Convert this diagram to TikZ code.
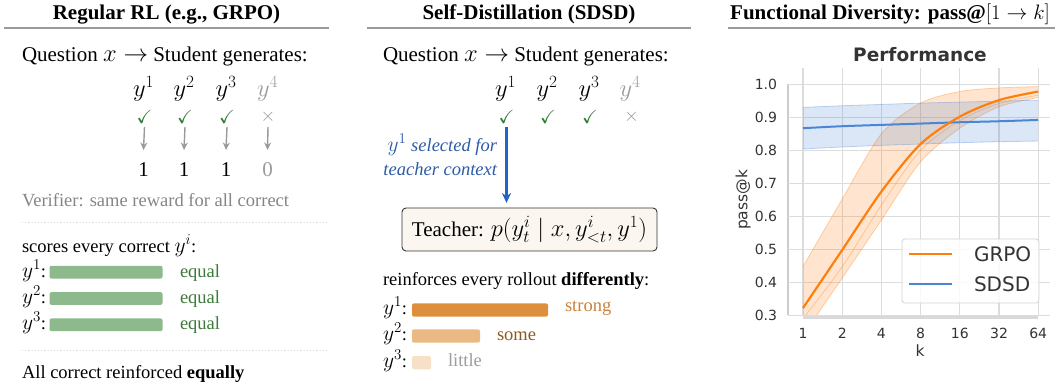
\RequirePackage{fix-cm}
\documentclass[tikz,border=0pt]{standalone}
\usepackage{amssymb}
\usepackage{fontspec}
\setmainfont{Liberation Serif}
\newfontfamily\djv{DejaVu Sans}
\usetikzlibrary{arrows.meta}
\DeclareMathSizes{21}{24.5}{17.2}{12.3}
\DeclareMathSizes{18.5}{21.5}{15}{10.8}
\definecolor{ckgreen}{HTML}{2E7D32}
\definecolor{eqgreen}{HTML}{3C7A3C}
\definecolor{bargreen}{HTML}{8DB98C}
\definecolor{midgrey}{HTML}{9A9A9A}
\definecolor{txtgrey}{HTML}{858585}
\definecolor{arrblue}{HTML}{1F66C9}
\definecolor{txtblue}{HTML}{2C5BA6}
\definecolor{teachfill}{HTML}{FBF6F0}
\definecolor{orA}{HTML}{DE8F3E}
\definecolor{orB}{HTML}{EBBA84}
\definecolor{orC}{HTML}{F6E0C8}
\definecolor{strongtxt}{HTML}{C8823C}
\definecolor{sometxt}{HTML}{8B5A1E}
\definecolor{grpoc}{HTML}{FF7F0E}
\definecolor{sdsdc}{HTML}{4A86D4}
\definecolor{gridc}{HTML}{DCDCDC}
\definecolor{axtxt}{HTML}{333333}
\newcommand\fA{\fontsize{21}{25}\selectfont}
\newcommand\fB{\fontsize{18.5}{22}\selectfont}
\newcommand\fC{\fontsize{19}{23}\selectfont}
\newcommand\fT{\fontsize{20.9}{25}\selectfont}
\tikzset{
  every node/.style={inner sep=0pt, outer sep=0pt},
  ttl/.style={font=\fA\bfseries, anchor=base},
  big/.style={font=\fA, anchor=base west},
  sm/.style={font=\fB, anchor=base west},
  yl/.style={font=\fA, anchor=base},
  ck/.style={font=\fC, text=ckgreen},
  xx/.style={font=\fC, text=midgrey},
  num/.style={font=\fA},
  hrule/.style={draw=midgrey, line width=1.7pt},
  dotline/.style={draw=gridc, dotted, line width=1.2pt},
  garr/.style={draw=midgrey, line width=1.4pt, -{Stealth[length=7.5pt,width=7pt]}},
  barr/.style={draw=arrblue, line width=2.2pt, -{Stealth[length=10pt,width=9pt]}},
  barbox/.style={rounded corners=2pt, minimum height=12.8pt, anchor=west},
  gridline/.style={draw=gridc, line width=1.1pt},
  tick/.style={font=\djv\fontsize{14}{16}\selectfont, text=axtxt},
  leg/.style={font=\djv\fontsize{20}{24}\selectfont, text=axtxt, anchor=west},
}
\begin{document}
\begin{tikzpicture}[x=1pt,y=-1pt]
\useasboundingbox (0,0) rectangle (1063,385);
% ================= left panel
\node[ttl] (t1) at (166.5,20) {Regular RL (e.g., GRPO)};
\draw[hrule] (4,27.7) -- (329,27.7);
\node[big] (q1) at (22,61.7) {Question $x\to$ Student generates:};
\foreach \i/\xx in {1/143.5,2/184,3/226}{
  \node[yl] (ya\i) at (\xx,96.5) {$y^{\i}$};
  \node[ck] (ca\i) at (\xx+1,117) {$\checkmark$};
  \node[num] (na\i) at (\xx,169.5) {1};
  \draw[garr] ([yshift=-10pt]ca\i.center) -- ([yshift=19.5pt]na\i.center);
}
\node[yl, text=midgrey] (ya4) at (267.5,96.5) {$y^4$};
\node[xx] (ca4) at (268,117) {$\times$};
\node[num, text=midgrey] (na4) at (267.5,169.5) {0};
\draw[garr] ([yshift=-10pt]ca4.center) -- ([yshift=19.5pt]na4.center);
\node[sm, text=txtgrey] (ver) at (22,206) {Verifier: same reward for all correct};
\draw[dotline] (22,222.3) -- (329,222.3);
\node[sm] (sc) at (22,252) {scores every correct $y^i$:};
\foreach \i/\yy in {1/277,2/303.3,3/329.6}{
  \node[sm] (la\i) at (22,\yy) {$y^{\i}$:};
  \node[barbox, fill=bargreen, minimum width=113pt] (ba\i) at (49.5,\yy-4.8) {};
  \node[sm, text=eqgreen] (ea\i) at (180,\yy) {equal};
}
\draw[dotline] (22,350.7) -- (329,350.7);
\node[sm] (fin) at (22,378.3) {All correct reinforced \textbf{equally}};
% ================= middle panel
\node[ttl] (t2) at (529,20) {Self-Distillation (SDSD)};
\draw[hrule] (367,27.7) -- (691,27.7);
\node[big] (q2) at (383,61.7) {Question $x\to$ Student generates:};
\foreach \i/\xx in {1/505.5,2/547,3/589}{
  \node[yl] (yb\i) at (\xx,96.5) {$y^{\i}$};
  \node[ck] (cb\i) at (\xx+1,117) {$\checkmark$};
}
\node[yl, text=midgrey] (yb4) at (630,96.5) {$y^4$};
\node[xx] (cb4) at (631.5,117) {$\times$};
\node[sm, anchor=base east, text=txtblue, font=\fB\itshape] (sel1) at (497,151.5) {$y^1$ selected for};
\node[sm, anchor=base east, text=txtblue, font=\fB\itshape] (sel2) at (497,175.5) {teacher context};
\node[draw=black!80, line width=0.9pt, fill=teachfill, rounded corners=4pt, minimum width=255pt, minimum height=43pt, font=\fA] (tb) at (529.5,229.5) {Teacher: $p(y^i_t\mid x, y^i_{<t}, y^1)$};
\draw[barr, shorten >=5pt] ([yshift=-10pt]cb1.center) -- (cb1.center |- tb.north);
\node[sm] (rf) at (383,285.5) {reinforces every rollout \textbf{differently}:};
\node[sm] (lb1) at (383,314) {$y^1$:};
\node[barbox, fill=orA, minimum width=136pt, minimum height=13.4pt] (bb1) at (412,310) {};
\node[sm, text=strongtxt] (w1) at (565,311.7) {strong};
\node[sm] (lb2) at (383,340.5) {$y^2$:};
\node[barbox, fill=orB, minimum width=68pt, minimum height=13.4pt] (bb2) at (412,336) {};
\node[sm, text=sometxt] (w2) at (497,340) {some};
\node[sm] (lb3) at (383,367) {$y^3$:};
\node[barbox, fill=orC, minimum width=19pt, minimum height=13.4pt] (bb3) at (412,362.7) {};
\node[sm, text=txtgrey!80] (w3) at (448,366.7) {little};
% ================= right panel
\node[ttl] (t3) at (890,20) {Functional Diversity: pass@{\fT$[1\to k]$}};
\draw[hrule] (728,27.7) -- (1055,27.7);
\node[font=\djv\bfseries\fontsize{18.5}{22}\selectfont, text=axtxt] (perf) at (920,55) {Performance};
\node[font=\djv\fontsize{15.5}{18}\selectfont, text=axtxt, rotate=90] (ylab) at (743,200) {pass@k};
\node[font=\djv\fontsize{15.5}{18}\selectfont, text=axtxt] (xlab) at (920,351) {k};
\draw[draw=black!20, line width=1.3pt] (788,84.3) -- (788,315.3);
\draw[draw=black!15, line width=2.2pt] (803,317.5) -- (1038,317.5);
\begin{scope}[shift={(803,414.3)}, x=39.2pt, y=330pt]
  \foreach \j in {0,...,6} \draw[gridline] (\j,0.301) -- (\j,1.049);
  \foreach \v in {0.3,0.4,0.5,0.6,0.7,0.8,0.9,1.0} {
    \draw[gridline] (-0.383,\v) -- (6.30,\v);
    \node[tick, anchor=east] (yt\v) at (-0.663,\v) {\v};
  }
  \foreach \j/\k in {0/1,1/2,2/4,3/8,4/16,5/32,6/64}
    \node[tick] (xt\k) at (\j,0.2464) {\k};
  \begin{scope}
    \clip (-0.383,0.301) rectangle (6.30,1.049);
    % GRPO band
    \fill[grpoc, opacity=0.2] plot[smooth] coordinates {(0,0.447) (1,0.652) (2,0.850) (3,0.943) (4,0.978) (5,0.989) (6,0.993)}
      -- plot[smooth] coordinates {(6,0.960) (5,0.932) (4,0.867) (3,0.765) (2,0.589) (1,0.413) (0,0.24)} -- cycle;
    \draw[grpoc, opacity=0.35, line width=0.8pt] plot[smooth] coordinates {(0,0.447) (1,0.652) (2,0.850) (3,0.943) (4,0.978) (5,0.989) (6,0.993)};
    \draw[grpoc, opacity=0.35, line width=0.8pt] plot[smooth] coordinates {(0,0.24) (1,0.413) (2,0.589) (3,0.765) (4,0.867) (5,0.932) (6,0.960)};
    \draw[grpoc, opacity=0.35, line width=0.8pt] plot[smooth] coordinates {(0,0.29) (1,0.447) (2,0.634) (3,0.800) (4,0.890) (5,0.942) (6,0.967)};
    % SDSD band
    \fill[sdsdc, opacity=0.2] plot[smooth] coordinates {(0,0.930) (1,0.935) (2,0.939) (3,0.943) (4,0.946) (5,0.949) (6,0.952)}
      -- plot[smooth] coordinates {(6,0.828) (5,0.826) (4,0.823) (3,0.819) (2,0.815) (1,0.810) (0,0.804)} -- cycle;
    \draw[sdsdc, opacity=0.35, line width=0.8pt] plot[smooth] coordinates {(0,0.930) (1,0.935) (2,0.939) (3,0.943) (4,0.946) (5,0.949) (6,0.952)};
    \draw[sdsdc, opacity=0.35, line width=0.8pt] plot[smooth] coordinates {(0,0.804) (1,0.810) (2,0.815) (3,0.819) (4,0.823) (5,0.826) (6,0.828)};
    \draw[sdsdc, line width=2pt] plot[smooth] coordinates {(0,0.867) (1,0.873) (2,0.877) (3,0.881) (4,0.885) (5,0.888) (6,0.892)};
    \draw[grpoc, line width=2.2pt] plot[smooth] coordinates {(0,0.322) (1,0.498) (2,0.675) (3,0.819) (4,0.902) (5,0.952) (6,0.978)};
  \end{scope}
\end{scope}
% legend
\node[draw=black!18, fill=white, fill opacity=0.85, draw opacity=1, rounded corners=3pt, line width=0.8pt, minimum width=137pt, minimum height=64pt, anchor=north west] (lgbox) at (902,239) {};
\coordinate (lg1a) at (909,254); \coordinate (lg1b) at (952,254);
\coordinate (lg2a) at (909,284); \coordinate (lg2b) at (952,284);
\draw[grpoc, line width=2.2pt] (lg1a) -- (lg1b);
\draw[sdsdc, line width=2.2pt] (lg2a) -- (lg2b);
\node[leg] (lgt1) at (974,254) {GRPO};
\node[leg] (lgt2) at (974,284) {SDSD};
\end{tikzpicture}
\end{document}
